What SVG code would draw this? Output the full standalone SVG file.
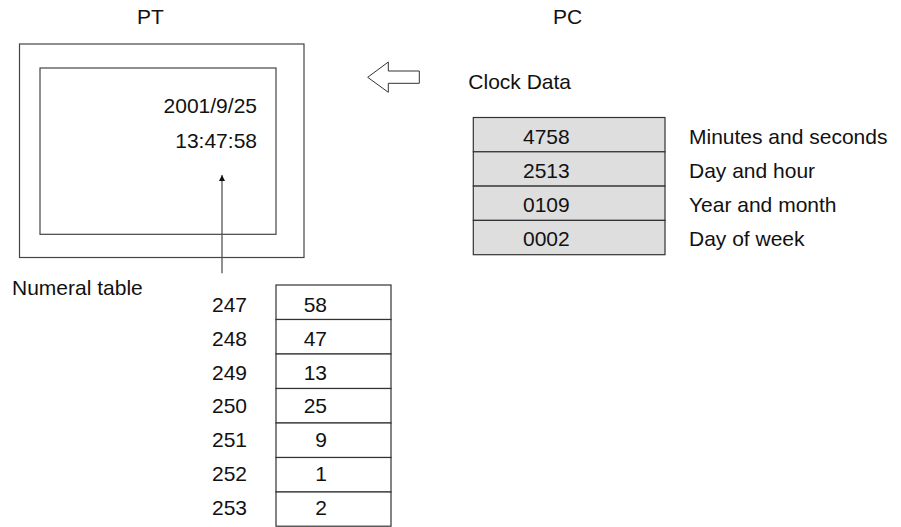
<svg xmlns="http://www.w3.org/2000/svg" width="901" height="527" viewBox="0 0 901 527">
<style>
text{font-family:"Liberation Sans",Arial,sans-serif;font-size:21px;fill:#111}
.box{fill:#fff;stroke:#444;stroke-width:1.2}
.cell{fill:#dedede;stroke:#333;stroke-width:1.2}
.ncell{fill:#fff;stroke:#333;stroke-width:1.2}
.end{text-anchor:end}
</style>
<defs>
<marker id="ah" viewBox="0 0 6 10" refX="6" refY="5" markerWidth="6" markerHeight="10" markerUnits="userSpaceOnUse" orient="auto">
<path d="M0,2 L6,5 L0,8 Z" fill="#111"/>
</marker>
</defs>
<rect width="901" height="527" fill="#fff"/>
<text x="137" y="24">PT</text>
<text x="553" y="24">PC</text>
<g id="pt">
<rect class="box" x="19.5" y="44" width="284.5" height="213.5"/>
<rect class="box" x="40" y="68" width="236" height="166.3"/>
<text class="end" x="257" y="112.7">2001/9/25</text>
<text class="end" x="257" y="147.7">13:47:58</text>
</g>
<g id="transfer-arrow">
<polygon points="367.7,77.3 388.3,62 388.3,71 419.3,71 419.3,83.3 388.3,83.3 388.3,92.3" fill="#fff" stroke="#333" stroke-width="1"/>
</g>
<g id="clock-data">
<text x="468.3" y="89.3">Clock Data</text>
<rect class="cell" x="473.3" y="117.5" width="191.7" height="34.3"/>
<rect class="cell" x="473.3" y="151.8" width="191.7" height="34.3"/>
<rect class="cell" x="473.3" y="186.1" width="191.7" height="34.3"/>
<rect class="cell" x="473.3" y="220.4" width="191.7" height="34.3"/>
<text x="523" y="144.3">4758</text>
<text x="523" y="178.3">2513</text>
<text x="523" y="212.3">0109</text>
<text x="523" y="246.3">0002</text>
<text x="689" y="144.3">Minutes and seconds</text>
<text x="689" y="178.3">Day and hour</text>
<text x="689" y="212.3">Year and month</text>
<text x="689" y="246.3">Day of week</text>
</g>
<g id="numeral-table">
<text x="12" y="295">Numeral table</text>
<rect class="ncell" x="276" y="285" width="115" height="34.5"/>
<rect class="ncell" x="276" y="319.5" width="115" height="34.5"/>
<rect class="ncell" x="276" y="354" width="115" height="34.5"/>
<rect class="ncell" x="276" y="388.5" width="115" height="34.5"/>
<rect class="ncell" x="276" y="423" width="115" height="34.5"/>
<rect class="ncell" x="276" y="457.5" width="115" height="34.5"/>
<rect class="ncell" x="276" y="492" width="115" height="34.2"/>
<text x="212" y="311.7">247</text>
<text x="212" y="345.6">248</text>
<text x="212" y="379.5">249</text>
<text x="212" y="413.4">250</text>
<text x="212" y="447.3">251</text>
<text x="212" y="481.2">252</text>
<text x="212" y="515">253</text>
<text class="end" x="327" y="311.7">58</text>
<text class="end" x="327" y="345.6">47</text>
<text class="end" x="327" y="379.5">13</text>
<text class="end" x="327" y="413.4">25</text>
<text class="end" x="327" y="447.3">9</text>
<text class="end" x="327" y="481.2">1</text>
<text class="end" x="327" y="515">2</text>
</g>
<g id="connectors">
<line x1="222" y1="273.3" x2="222" y2="175" stroke="#555" stroke-width="1.3" marker-end="url(#ah)"/>
</g>
</svg>
